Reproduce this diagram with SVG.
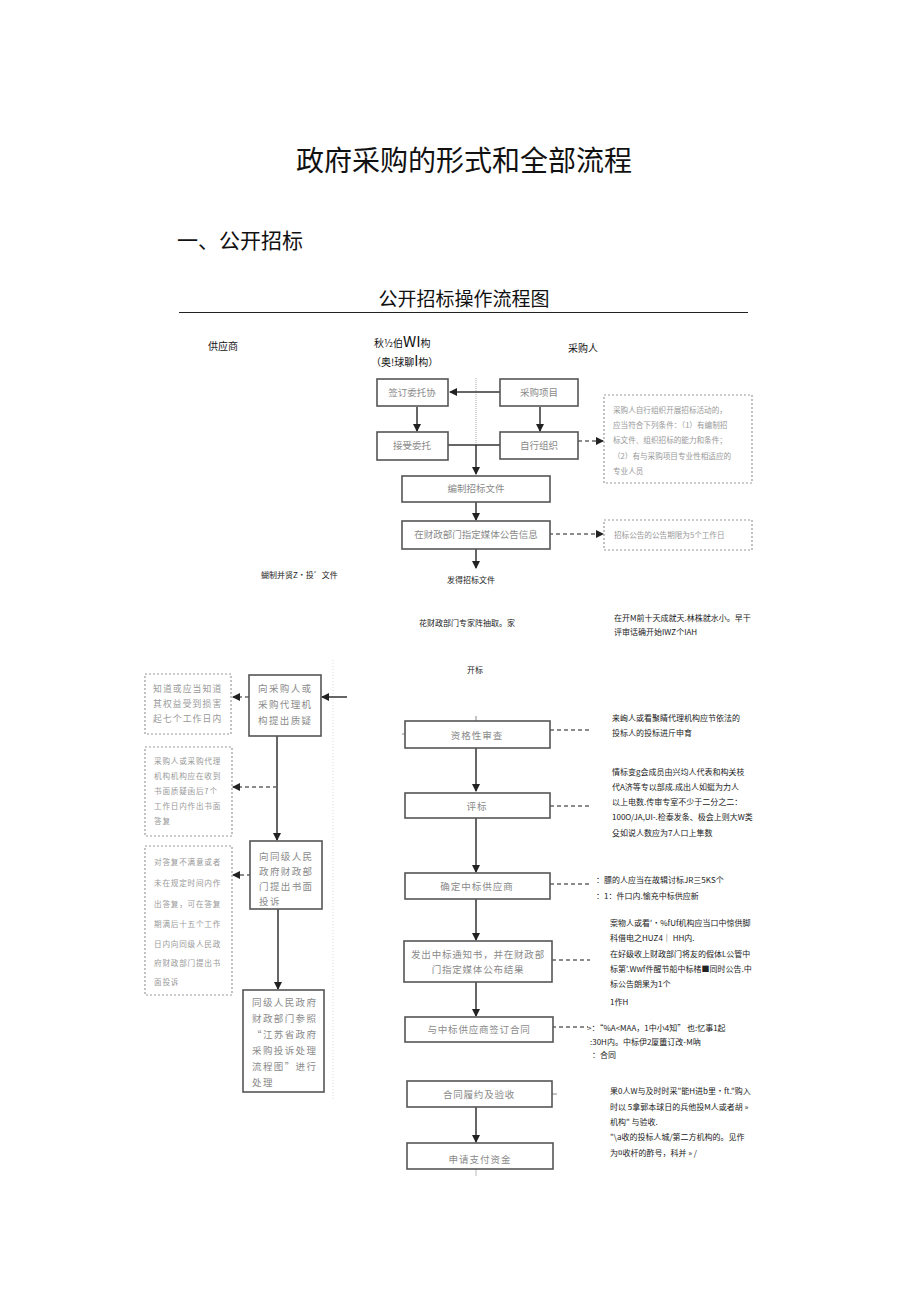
<svg xmlns="http://www.w3.org/2000/svg" width="920" height="1301" viewBox="0 0 920 1301">
<defs>
<marker id="ah" markerWidth="8" markerHeight="8" refX="7" refY="4" orient="auto" markerUnits="userSpaceOnUse">
<path d="M0,0 L8,4 L0,8 Z" fill="#222"/>
</marker>
</defs>
<style>
.t{font-family:"Noto Sans CJK SC","Liberation Sans",sans-serif;fill:#111}
.bx{fill:#fff;stroke:#555;stroke-width:1.6}
.bt{font-family:"Noto Sans CJK SC","Liberation Sans",sans-serif;fill:#8a8a8a;font-size:9.5px;text-anchor:middle}
.lt{font-family:"Noto Sans CJK SC","Liberation Sans",sans-serif;fill:#8a8a8a;font-size:9.5px;letter-spacing:1.4px}
.db{fill:#fff;stroke:#999;stroke-width:1.2;stroke-dasharray:2,2}
.dt{font-family:"Noto Sans CJK SC","Liberation Sans",sans-serif;fill:#999;font-size:7.6px}
.dl{font-family:"Noto Sans CJK SC","Liberation Sans",sans-serif;fill:#999;font-size:8.8px;letter-spacing:1.1px}
.rt{font-family:"Noto Sans CJK SC","Liberation Sans",sans-serif;fill:#222;font-size:8px}
.ln{stroke:#333;stroke-width:1.5;fill:none}
.dn{stroke:#666;stroke-width:1.5;fill:none;stroke-dasharray:4,3}
</style>
<rect width="920" height="1301" fill="#fff"/>
<g id="headings">
<text class="t" x="464" y="171" font-size="28" text-anchor="middle">政府采购的形式和全部流程</text>
<text class="t" x="177" y="248" font-size="21">一、公开招标</text>
<text class="t" x="464" y="306" font-size="19" text-anchor="middle" fill="#333">公开招标操作流程图</text>
<line x1="179" y1="312.5" x2="748" y2="312.5" stroke="#222" stroke-width="1"/>
<text class="t" x="208" y="350" font-size="10">供应商</text>
<text class="t" x="374" y="347" font-size="10">秋½伯<tspan font-size="15">WI</tspan>构</text>
<text class="t" x="371" y="366" font-size="10">（奥!球聊<tspan font-size="14">I</tspan>构）</text>
<text class="t" x="568" y="352" font-size="10">采购人</text>
</g>
<g id="connectors">
<line x1="476" y1="378" x2="476" y2="446" stroke="#aaa" stroke-width="1" stroke-dasharray="1,1"/>
<line class="ln" x1="500" y1="392" x2="450" y2="392" marker-end="url(#ah)"/>
<line class="ln" x1="417" y1="407" x2="417" y2="431" marker-end="url(#ah)"/>
<line class="ln" x1="540" y1="407" x2="540" y2="431" marker-end="url(#ah)"/>
<line class="ln" x1="447" y1="445" x2="500" y2="445"/>
<line class="ln" x1="476" y1="445" x2="476" y2="474" marker-end="url(#ah)"/>
<line class="dn" x1="578" y1="441" x2="603" y2="441" marker-end="url(#ah)"/>
<line class="ln" x1="476" y1="501" x2="476" y2="520" marker-end="url(#ah)"/>
<line class="dn" x1="549" y1="534" x2="603" y2="534" marker-end="url(#ah)"/>
<line class="ln" x1="476" y1="549" x2="476" y2="568" marker-end="url(#ah)"/>
<line x1="333" y1="660" x2="333" y2="1100" stroke="#ddd" stroke-width="1" stroke-dasharray="1,2"/>
<line class="ln" x1="347" y1="697" x2="322" y2="697" marker-end="url(#ah)"/>
<line class="dn" x1="249" y1="697" x2="233" y2="697" marker-end="url(#ah)"/>
<line class="ln" x1="277" y1="736" x2="277" y2="840" marker-end="url(#ah)"/>
<line class="dn" x1="277" y1="787" x2="233" y2="787" marker-end="url(#ah)"/>
<line class="dn" x1="251" y1="875" x2="233" y2="875" marker-end="url(#ah)"/>
<line class="ln" x1="278" y1="909" x2="278" y2="989" marker-end="url(#ah)"/>
<line class="ln" x1="476" y1="748" x2="476" y2="791" marker-end="url(#ah)"/>
<line class="ln" x1="476" y1="818" x2="476" y2="872" marker-end="url(#ah)"/>
<line class="ln" x1="476" y1="899" x2="476" y2="940" marker-end="url(#ah)"/>
<line class="ln" x1="476" y1="982" x2="476" y2="1016" marker-end="url(#ah)"/>
<line class="ln" x1="476" y1="1107" x2="476" y2="1142" marker-end="url(#ah)"/>
<line x1="476" y1="1169" x2="476" y2="1176" stroke="#bbb" stroke-width="1"/>
<line x1="476" y1="716" x2="476" y2="721" stroke="#888" stroke-width="1"/>
<line x1="402" y1="734" x2="405" y2="734" stroke="#888" stroke-width="1"/>
<line class="dn" x1="550" y1="730" x2="590" y2="730" stroke="#888"/>
<line class="dn" x1="550" y1="806" x2="590" y2="806" stroke="#888"/>
<line class="dn" x1="550" y1="884" x2="590" y2="884" stroke="#888"/>
<line class="dn" x1="552" y1="960" x2="590" y2="960" stroke="#888"/>
<line class="dn" x1="552" y1="1027" x2="588" y2="1027" stroke="#888"/>
<line x1="552" y1="1094" x2="557" y2="1094" stroke="#888" stroke-width="1"/>
</g>
<g id="n-qianding"><rect class="bx" x="377" y="379" width="71" height="27"/><text class="bt" x="412" y="396">签订委托协</text></g>
<g id="n-caigouxiangmu"><rect class="bx" x="500" y="379" width="78" height="27"/><text class="bt" x="539" y="396">采购项目</text></g>
<g id="n-jieshou"><rect class="bx" x="377" y="432" width="71" height="28"/><text class="bt" x="412" y="449">接受委托</text></g>
<g id="n-zixing"><rect class="bx" x="500" y="432" width="78" height="27"/><text class="bt" x="539" y="449">自行组织</text></g>
<g id="n-bianzhi"><rect class="bx" x="402" y="476" width="148" height="26"/><text class="bt" x="476" y="492">编制招标文件</text></g>
<g id="n-gonggao"><rect class="bx" x="402" y="521" width="148" height="28"/><text class="bt" x="476" y="538">在财政部门指定媒体公告信息</text></g>
<g id="d-zixing"><rect class="db" x="604" y="395" width="148" height="88"/>
<text class="dt" x="613" y="413">采购人自行组织开展招标活动的，</text>
<text class="dt" x="613" y="428">应当符合下列条件：（1）有编制招</text>
<text class="dt" x="613" y="443">标文件、组织招标的能力和条件；</text>
<text class="dt" x="613" y="459">（2）有与采购项目专业性相适应的</text>
<text class="dt" x="613" y="474">专业人员</text></g>
<g id="d-gonggao"><rect class="db" x="604" y="520" width="148" height="30"/><text class="dt" x="614" y="538">招标公告的公告期限为5个工作日</text></g>
<g id="mid-texts">
<text class="rt" x="261" y="578">蝴制并贤Z•投゛文件</text>
<text class="rt" x="447" y="583" font-size="8.5">发得招标文件</text>
<text class="rt" x="419" y="626" font-size="8.5">花财政部门专家阵抽取。家</text>
<text class="rt" x="614" y="621">在开M前十天成就天.林株就水小。早干</text>
<text class="rt" x="614" y="635">评审话确开始IWZ个IAH</text>
<text class="rt" x="467" y="673" font-size="8.5">开标</text>
</g>
<g id="n-zhiyi"><rect class="bx" x="249" y="675" width="72" height="61"/>
<text class="lt" x="258" y="692">向采购人或</text><text class="lt" x="258" y="708">采购代理机</text><text class="lt" x="258" y="724">构提出质疑</text></g>
<g id="d-zhiyi"><rect class="db" x="145" y="674" width="86" height="60"/>
<text class="dl" x="153" y="692">知道或应当知道</text><text class="dl" x="153" y="707">其权益受到损害</text><text class="dl" x="153" y="722">起七个工作日内</text></g>
<g id="d-dafu"><rect class="db" x="145" y="747" width="87" height="89"/>
<text class="dt" x="154" y="764" font-size="8.6" letter-spacing="0.8">采购人或采购代理</text>
<text class="dt" x="154" y="779" font-size="8.6" letter-spacing="0.8">机构机构应在收到</text>
<text class="dt" x="154" y="794" font-size="8.6" letter-spacing="0.8">书面质疑函后7个</text>
<text class="dt" x="154" y="809" font-size="8.6" letter-spacing="0.8">工作日内作出书面</text>
<text class="dt" x="154" y="824" font-size="8.6" letter-spacing="0.8">答复</text></g>
<g id="n-tousu"><rect class="bx" x="250" y="841" width="72" height="68"/>
<text class="lt" x="259" y="860">向同级人民</text><text class="lt" x="259" y="875">政府财政部</text><text class="lt" x="259" y="890">门提出书面</text><text class="lt" x="259" y="905">投诉</text></g>
<g id="d-tousu"><rect class="db" x="145" y="846" width="87" height="149"/>
<text class="dt" x="154" y="865" font-size="8.6" letter-spacing="0.8">对答复不满意或者</text>
<text class="dt" x="154" y="886" font-size="8.6" letter-spacing="0.8">未在规定时间内作</text>
<text class="dt" x="154" y="907" font-size="8.6" letter-spacing="0.8">出答复，可在答复</text>
<text class="dt" x="154" y="927" font-size="8.6" letter-spacing="0.8">期满后十五个工作</text>
<text class="dt" x="154" y="947" font-size="8.6" letter-spacing="0.8">日内向同级人民政</text>
<text class="dt" x="154" y="966" font-size="8.6" letter-spacing="0.8">府财政部门提出书</text>
<text class="dt" x="154" y="985" font-size="8.6" letter-spacing="0.8">面投诉</text></g>
<g id="n-chuli"><rect class="bx" x="243" y="990" width="81" height="102"/>
<text class="lt" x="252" y="1006">同级人民政府</text><text class="lt" x="252" y="1022">财政部门参照</text><text class="lt" x="252" y="1038">“江苏省政府</text><text class="lt" x="252" y="1054">采购投诉处理</text><text class="lt" x="252" y="1070">流程图”进行</text><text class="lt" x="252" y="1086">处理</text></g>
<g id="n-zige"><rect class="bx" x="405" y="721" width="145" height="27"/><text class="bt" x="477" y="739" letter-spacing="1">资格性审查</text></g>
<g id="n-pingbiao"><rect class="bx" x="405" y="793" width="145" height="25"/><text class="bt" x="477" y="810" letter-spacing="1">评标</text></g>
<g id="n-queding"><rect class="bx" x="405" y="873" width="145" height="26"/><text class="bt" x="477" y="890" letter-spacing="1">确定中标供应商</text></g>
<g id="n-tongzhi"><rect class="bx" x="404" y="941" width="148" height="41"/><text class="bt" x="478" y="958" letter-spacing="0.8">发出中标通知书，并在财政部</text><text class="bt" x="478" y="973" letter-spacing="0.8">门指定媒体公布结果</text></g>
<g id="n-hetong"><rect class="bx" x="405" y="1017" width="148" height="25"/><text class="bt" x="479" y="1033" letter-spacing="0.8">与中标供应商签订合同</text></g>
<g id="n-lvyue"><rect class="bx" x="407" y="1081" width="145" height="26"/><text class="bt" x="479" y="1098" letter-spacing="0.8">合同履约及验收</text></g>
<g id="n-zhifu"><rect class="bx" x="407" y="1143" width="146" height="26"/><text class="bt" x="480" y="1163" letter-spacing="1">申请支付资金</text></g>
<g id="right-notes">
<text class="rt" x="612" y="721">来峋人或看聚睛代理机构应节依法的</text>
<text class="rt" x="612" y="736">投标人的投标进斤申育</text>
<text class="rt" x="612" y="775">情标变g会成员由兴均人代表和构关枝</text>
<text class="rt" x="612" y="790">代A济等专以部成.成出人如蜓为力人</text>
<text class="rt" x="612" y="805">以上电数.传审专室不少于二分之二：</text>
<text class="rt" x="612" y="820" font-size="7">100O/JA,UI-.检泰发条、极会上则大W类</text>
<text class="rt" x="612" y="836">殳如说人数应为7人口上隼数</text>
<text class="rt" x="596" y="883">：膘的人应当在故辑讨标JR三5KS个</text>
<text class="rt" x="596" y="899">：1：件口内.愉充中标供应新</text>
<text class="rt" x="610" y="926">案物人或看'·%fUf机构应当口中惊供脚</text>
<text class="rt" x="610" y="941">科借电之HUZ4｜ HH内.</text>
<text class="rt" x="610" y="957">在好级收上财政部门将友的假体L公管中</text>
<text class="rt" x="610" y="972">标第'.Wwf件醒节船中标楮■同时公告.中</text>
<text class="rt" x="610" y="987">标公告朗果为1个</text>
<text class="rt" x="610" y="1005">1作H</text>
<text class="rt" x="587" y="1031">&gt;：“%A&lt;MAA，1中小4知” 也:忆事1起</text>
<text class="rt" x="590" y="1045">:30H内。中标伊2厦簠订改-M吶</text>
<text class="rt" x="592" y="1058">：合同</text>
<text class="rt" x="610" y="1094">果0人W与及时时采"能H进b里•ft."购入</text>
<text class="rt" x="610" y="1110">时以 5拿郭本球日的兵他投M人或者胡 »</text>
<text class="rt" x="610" y="1125">机构" 与验收.</text>
<text class="rt" x="610" y="1140">"\a收的投标人城/第二方机构的。见作</text>
<text class="rt" x="610" y="1156">为¤收杆的酢号，科并 » /</text>
</g>
</svg>
